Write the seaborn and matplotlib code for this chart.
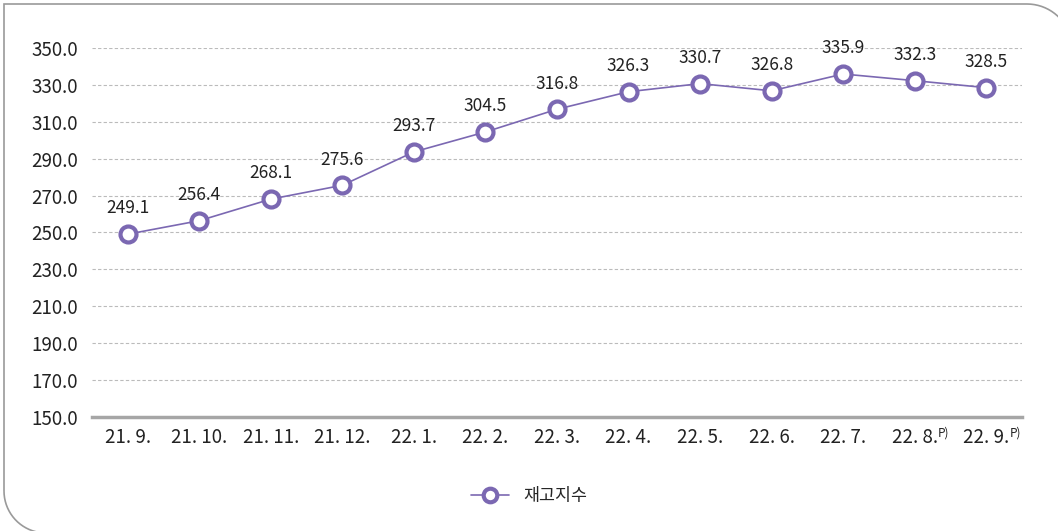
import numpy as np
import pandas as pd
import seaborn as sns
import matplotlib.pyplot as plt
from matplotlib.path import Path
from matplotlib.patches import PathPatch
from matplotlib.transforms import Affine2D

months = ['21. 9.', '21. 10.', '21. 11.', '21. 12.', '22. 1.', '22. 2.', '22. 3.',
          '22. 4.', '22. 5.', '22. 6.', '22. 7.', '22. 8.', '22. 9.']
prelim = [False] * 11 + [True, True]
stock_index = [249.1, 256.4, 268.1, 275.6, 293.7, 304.5, 316.8,
               326.3, 330.7, 326.8, 335.9, 332.3, 328.5]
series_name = '재고지수'

df = pd.DataFrame({'month': months, 'value': stock_index})
df['pos'] = range(len(df))

sns.set_style('white')
plt.rcParams['font.family'] = ['DejaVu Sans Condensed', 'Liberation Sans Narrow',
                               'Noto Sans CJK KR', 'DejaVu Sans']

purple = '#7b68b2'
fig = plt.figure(figsize=(10.58, 5.31), dpi=100)
ax = fig.add_axes([92 / 1058, 1 - 417 / 531, 930 / 1058, 369 / 531])

sns.lineplot(data=df, x='pos', y='value', ax=ax, color=purple, linewidth=1.2,
             marker='o', markersize=11.5, markerfacecolor='white',
             markeredgecolor=purple, markeredgewidth=3, label=series_name,
             clip_on=False, zorder=3)

for x, v in zip(df['pos'], df['value']):
    ax.annotate(f'{v:.1f}', (x, v), xytext=(0, 12), textcoords='offset points',
                ha='center', va='bottom', fontsize=12.5, color='#222222')

ax.set_xlim(-0.5, len(months) - 0.5)
ax.set_ylim(150, 350)
ax.set_yticks(range(150, 351, 20))
ax.set_yticklabels([f'{t:.1f}' for t in range(150, 351, 20)], fontsize=13.5, color='#222222')
ax.set_xticks(df['pos'])
ax.set_xticklabels(months, fontsize=13.5, color='#222222')
ax.tick_params(axis='both', length=0)
ax.tick_params(axis='x', pad=7)
ax.tick_params(axis='y', pad=10)
for x, p in zip(df['pos'], prelim):
    if p:
        ax.annotate('P)', (x, 150), xytext=(21, -7), textcoords='offset points',
                    ha='center', va='top', fontsize=8.5, color='#222222',
                    annotation_clip=False)

ax.set_xlabel('')
ax.set_ylabel('')
ax.yaxis.grid(True, linestyle=(0, (3, 2)), color='#bbbbbb', linewidth=0.8)
for s in ['top', 'right', 'left']:
    ax.spines[s].set_visible(False)
ax.spines['bottom'].set_color('#a6a6a6')
ax.spines['bottom'].set_linewidth(2.5)

leg = ax.legend(loc='center', bbox_to_anchor=(0.47, -0.215), frameon=False,
                fontsize=12.5, handlelength=2.2, markerscale=0.85)
for t in leg.get_texts():
    t.set_family(['Noto Sans CJK KR', 'DejaVu Sans'])

# outer frame (pixel coords, y down): square top-left, rounded top-right and bottom-left
r1, r2 = 45, 42
a = np.linspace(0, np.pi / 2, 20)
pts = [(4, 533 - r2), (4, 4), (1027, 4)]
pts += [(1027 + r1 * np.sin(t), 4 + r1 - r1 * np.cos(t)) for t in a]
pts += [(1072, 560)]
frame_pts = [(4, 533 - r2)] + [(4 + r2 - r2 * np.cos(t), 533 - r2 + r2 * np.sin(t)) for t in a] + [(120, 533)]
to_fig = Affine2D().scale(1, -1).translate(0, 531).scale(1 / 1058, 1 / 531) + fig.transFigure
for p in (pts, frame_pts):
    fig.patches.append(PathPatch(Path(p), transform=to_fig, fill=False,
                                 edgecolor='#9a9a9a', linewidth=1.2))

fig.savefig('out.png', dpi=100)
